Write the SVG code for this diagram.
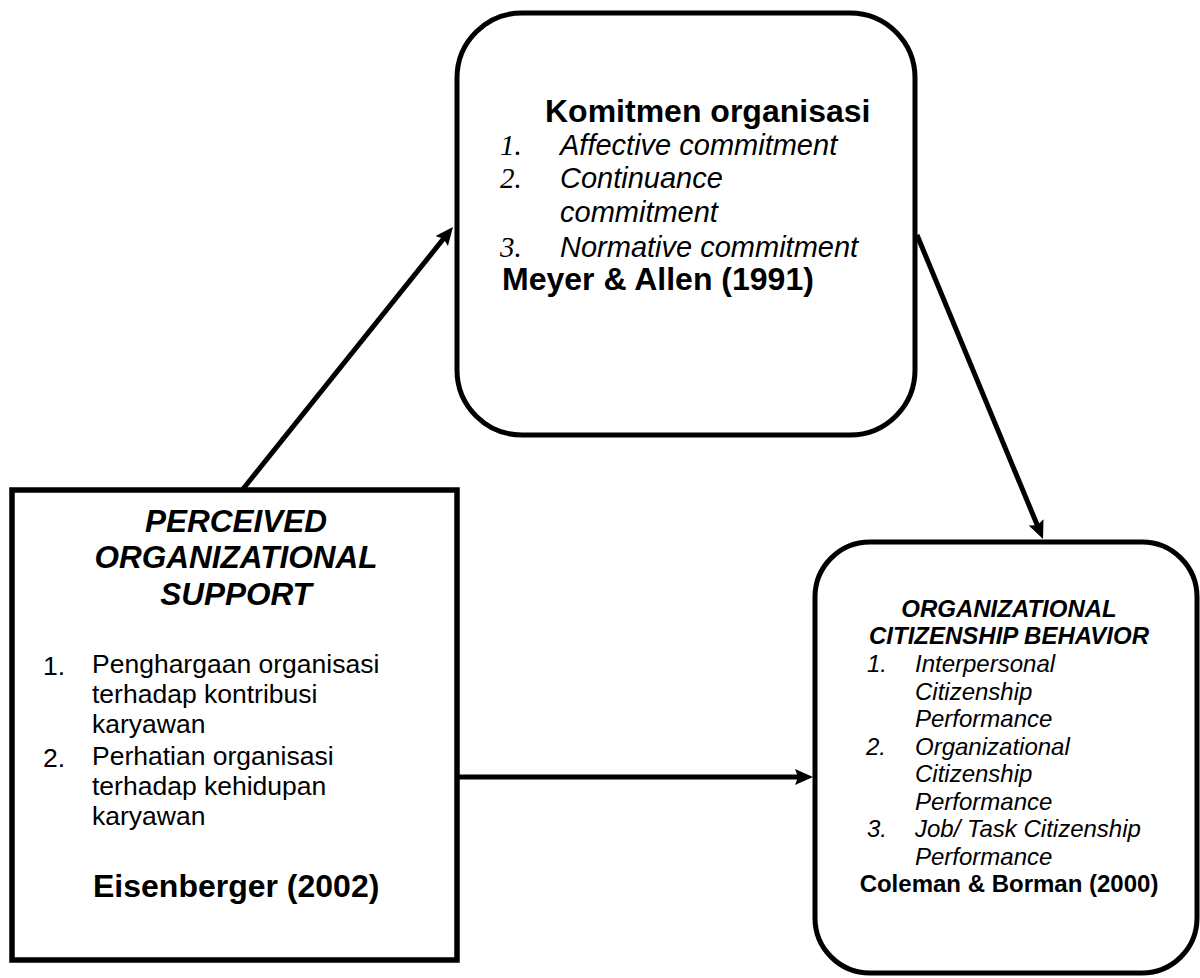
<svg xmlns="http://www.w3.org/2000/svg" width="1200" height="978" viewBox="0 0 1200 978">
<defs>
<marker id="ah" markerUnits="userSpaceOnUse" markerWidth="20" markerHeight="18" refX="8" refY="8" orient="auto">
<path d="M0,0 L18,8 L0,16 L3,8 z" fill="#000"/>
</marker>
<style>
.box{fill:#fff;stroke:#000;stroke-width:5}
.t{font-family:"Liberation Sans",Arial,sans-serif;fill:#000}
.b{font-weight:bold}
.i{font-style:italic}
.num{font-family:"Liberation Serif","Times New Roman",serif;font-style:italic;fill:#000}
.c{text-anchor:middle}
.conn{stroke:#000;stroke-width:5;fill:none;marker-end:url(#ah)}
</style>
</defs>
<rect width="1200" height="978" fill="#fff"/>
<g id="connectors">
<line class="conn" x1="243" y1="489" x2="446.7" y2="234.8"/>
<line class="conn" x1="917" y1="235" x2="1039.2" y2="529.8"/>
<line class="conn" x1="459" y1="777" x2="803" y2="777"/>
</g>
<g id="komitmen">
<rect class="box" x="457" y="13" width="458" height="422" rx="65" ry="65"/>
<text class="t b" x="545" y="122" font-size="32">Komitmen organisasi</text>
<text class="num" x="500" y="155" font-size="29">1.</text>
<text class="t i" x="560" y="155" font-size="29">Affective commitment</text>
<text class="num" x="500" y="188" font-size="29">2.</text>
<text class="t i" x="560" y="188" font-size="29">Continuance</text>
<text class="t i" x="560" y="222" font-size="29">commitment</text>
<text class="num" x="500" y="257" font-size="29">3.</text>
<text class="t i" x="560" y="257" font-size="29">Normative commitment</text>
<text class="t b" x="502" y="290" font-size="32">Meyer &amp; Allen (1991)</text>
</g>
<g id="pos">
<rect class="box" x="12" y="490" width="445" height="470" style="stroke-width:5.5"/>
<text class="t b i c" x="236" y="532" font-size="31.5">PERCEIVED</text>
<text class="t b i c" x="236" y="568" font-size="31.5">ORGANIZATIONAL</text>
<text class="t b i c" x="236" y="605" font-size="31.5">SUPPORT</text>
<text class="t" x="43" y="675" font-size="26.5">1.</text>
<text class="t" x="92" y="673" font-size="26.5">Penghargaan organisasi</text>
<text class="t" x="92" y="703" font-size="26.5">terhadap kontribusi</text>
<text class="t" x="92" y="733" font-size="26.5">karyawan</text>
<text class="t" x="43" y="767" font-size="26.5">2.</text>
<text class="t" x="92" y="765" font-size="26.5">Perhatian organisasi</text>
<text class="t" x="92" y="795" font-size="26.5">terhadap kehidupan</text>
<text class="t" x="92" y="825" font-size="26.5">karyawan</text>
<text class="t b" x="93" y="897" font-size="32">Eisenberger (2002)</text>
</g>
<g id="ocb">
<rect class="box" x="815" y="542" width="382" height="431" rx="55" ry="55"/>
<text class="t b i c" x="1009" y="617" font-size="24">ORGANIZATIONAL</text>
<text class="t b i c" x="1009" y="644" font-size="24">CITIZENSHIP BEHAVIOR</text>
<text class="t i" x="867" y="672" font-size="24">1.</text>
<text class="t i" x="915" y="672" font-size="24">Interpersonal</text>
<text class="t i" x="915" y="700" font-size="24">Citizenship</text>
<text class="t i" x="915" y="727" font-size="24">Performance</text>
<text class="t i" x="866" y="755" font-size="24">2.</text>
<text class="t i" x="915" y="755" font-size="24">Organizational</text>
<text class="t i" x="915" y="782" font-size="24">Citizenship</text>
<text class="t i" x="915" y="810" font-size="24">Performance</text>
<text class="t i" x="867" y="837" font-size="24">3.</text>
<text class="t i" x="915" y="837" font-size="24">Job/ Task Citizenship</text>
<text class="t i" x="915" y="865" font-size="24">Performance</text>
<text class="t b c" x="1009" y="892" font-size="24">Coleman &amp; Borman (2000)</text>
</g>
</svg>
